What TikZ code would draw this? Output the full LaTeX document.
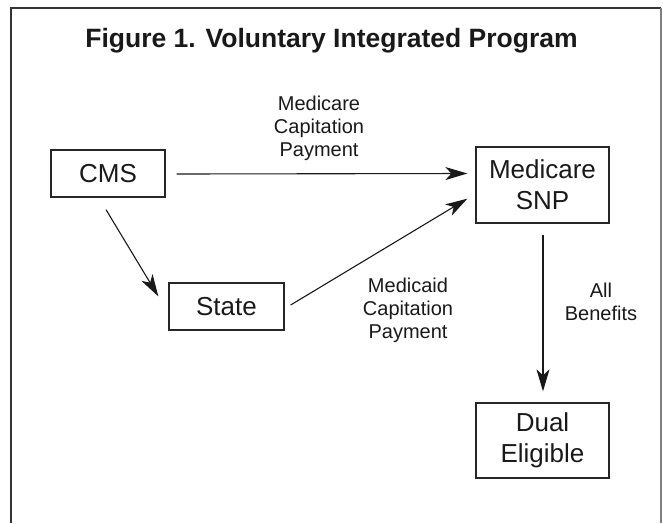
\documentclass[tikz,border=0pt]{standalone}
\usepackage{fontspec}
\setmainfont{Liberation Sans}
\usetikzlibrary{arrows.meta}
\begin{document}
\begin{tikzpicture}[x=1pt,y=-1pt,
  box/.style={draw=black!85, line width=1.3pt, align=center, inner sep=0pt,
    font=\fontsize{26}{31}\selectfont, text=black!90},
  lbl/.style={align=center, inner sep=0pt, font=\fontsize{20}{23}\selectfont, text=black!90},
  arr/.style={line width=1.1pt, draw=black!90,
    -{Stealth[length=22pt,width=13pt,inset=6pt]}},
  frameline/.style={line width=1.6pt, draw=black!80}]
\useasboundingbox (0,0) rectangle (663,523);
% frame
\draw[frameline] (11,523) -- (11,8) -- (661,8);
\draw[line width=1.2pt, draw=black!50] (661,8) -- (661,523);
% title
\node[anchor=base, inner sep=0pt, font=\fontsize{26.5}{30}\selectfont\bfseries, text=black!90] (title) at (331.5,47) {Figure 1. Voluntary Integrated Program};
% boxes
\node[box, minimum width=114pt, minimum height=47pt] (cms) at (108,173.5) {CMS};
\node[box, minimum width=115pt, minimum height=47pt] (state) at (226.5,306.5) {State};
\node[box, minimum width=133pt, minimum height=76pt] (snp) at (542.5,185) {Medicare\\SNP};
\node[box, minimum width=133pt, minimum height=75pt] (dual) at (542.5,440.5) {Dual\\Eligible};
% labels
\node[lbl] (l1) at (319,128.5) {Medicare\\Capitation\\Payment};
\node[lbl] (l2) at (408,310) {Medicaid\\Capitation\\Payment};
\node[lbl] (l3) at (601,302) {All\\Benefits};
% arrows
\draw[arr] ([shift={(11,0.5)}]cms.east) -- ([shift={(-8,0)}]snp.west |- cms.east);
\draw[arr] ([shift={(-2,12)}]cms.south) -- ([shift={(-10,14)}]state.north west);
\draw[arr] ([shift={(6,-1.5)}]state.east) -- ([shift={(-8,-25)}]snp.south west);
\draw[arr] ([shift={(0.5,11)}]snp.south) -- ([shift={(0.5,-11)}]dual.north);
\end{tikzpicture}
\end{document}
